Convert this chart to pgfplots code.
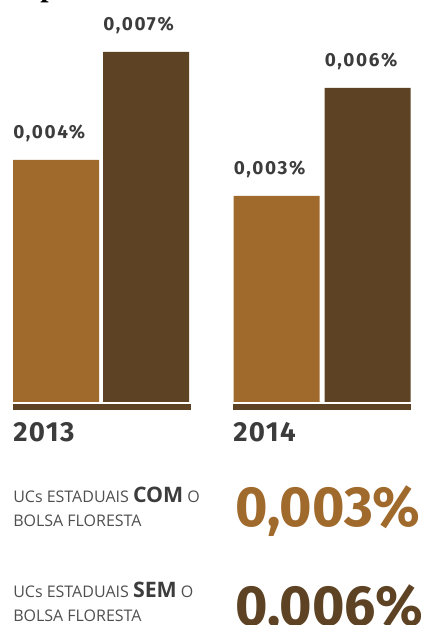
\documentclass[border=0pt]{standalone}
\usepackage{pgfplots}
\pgfplotsset{compat=1.18}
\usepackage{graphicx}
\usepackage{fontspec}
\setmainfont{Open Sans}
\newfontfamily\fira{Fira Sans}
\newfontfamily\firasp[LetterSpace=9]{Fira Sans}
\newfontfamily\firayr[LetterSpace=5]{Fira Sans}
\newfontfamily\timesb{Liberation Serif}
\definecolor{light}{HTML}{A06A2D}
\definecolor{dark}{HTML}{5D4323}
\definecolor{lab}{HTML}{3C3C3C}
\definecolor{txt}{HTML}{4F4F4F}
\begin{document}
\begin{tikzpicture}[x=0.75pt,y=0.75pt]
\useasboundingbox (0,0) rectangle (421,625);
\clip (0,0) rectangle (421,625);
\begin{axis}[at={(0,0)}, anchor=south west, scale only axis,
  width=315.75pt, height=468.75pt,
  xmin=0, xmax=421, ymin=-223, ymax=402,
  hide axis, clip=false, ybar, bar shift=0pt, bar width=86,
  y filter/.expression={(y+0.002722)*36000},
  point meta=explicit symbolic, nodes near coords,
  nodes near coords style={anchor=base west, inner sep=0pt, xshift=-32.25pt, yshift=16pt,
    font=\firasp\bfseries\fontsize{14.2pt}{14pt}\selectfont, text=lab}]
\addplot[fill=light, draw=none] coordinates {(56,0.004) [{0,004\%}] (276.5,0.003) [{0,003\%}]};
\addplot[fill=dark, draw=none] coordinates {(146,0.007) [{0,007\%}] (367.5,0.006) [{0,006\%}]};
\fill[dark] (axis cs:13,-2) rectangle (axis cs:191,-8);
\fill[dark] (axis cs:233,-2) rectangle (axis cs:411,-8);
\end{axis}
\node[anchor=base west, inner sep=0pt, font=\timesb\bfseries\fontsize{22.5pt}{22pt}\selectfont] at (40,628) {p};
\node[anchor=base west, inner sep=0pt, text=lab, font=\firayr\bfseries\fontsize{20.7pt}{20pt}\selectfont] at (13,183) {2013};
\node[anchor=base west, inner sep=0pt, text=lab, font=\firayr\bfseries\fontsize{20.7pt}{20pt}\selectfont] at (233,183) {2014};
\node[anchor=base west, inner sep=0pt, text=txt, font=\fontsize{12pt}{12pt}\selectfont] at (13,122) {UCs ESTADUAIS {\bfseries\color{lab}\fontsize{16pt}{16pt}\selectfont COM} O};
\node[anchor=base west, inner sep=0pt, text=txt, font=\fontsize{12pt}{12pt}\selectfont] at (13,98) {BOLSA FLORESTA};
\node[anchor=base west, inner sep=0pt, text=txt, font=\fontsize{12pt}{12pt}\selectfont] at (13,27) {UCs ESTADUAIS {\bfseries\color{lab}\fontsize{16pt}{16pt}\selectfont SEM} O};
\node[anchor=base west, inner sep=0pt, text=txt, font=\fontsize{12pt}{12pt}\selectfont] at (13,3) {BOLSA FLORESTA};
\node[anchor=base west, inner sep=0pt, text=light, font=\fira\bfseries\fontsize{42.5pt}{42pt}\selectfont] at (235,98) {\scalebox{0.98}[1]{0,003\%}};
\node[anchor=base west, inner sep=0pt, text=dark, font=\fira\bfseries\fontsize{42.5pt}{42pt}\selectfont] at (235,-1) {\scalebox{0.98}[1]{0,006\%}};
\end{tikzpicture}
\end{document}
